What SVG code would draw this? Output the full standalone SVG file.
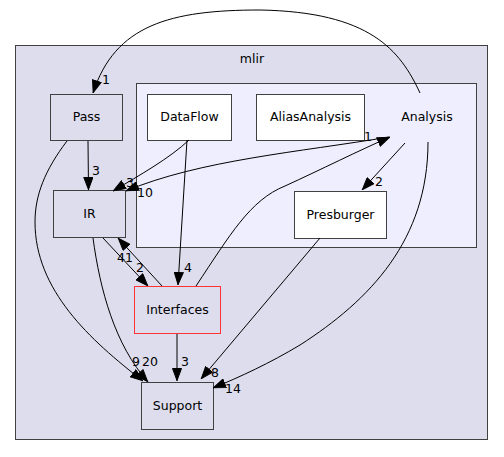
<svg xmlns="http://www.w3.org/2000/svg" width="504" height="457" viewBox="0 0 504 457">
<style>
text{font-family:"DejaVu Sans",sans-serif;font-size:12.5px;fill:#000;text-anchor:middle}
.n{stroke:#404040;stroke-width:1}
.e{fill:none;stroke:#000;stroke-width:1}
</style>
<defs>
<marker id="a" viewBox="0 0 13 10" refX="13" refY="5" markerWidth="13" markerHeight="10" markerUnits="userSpaceOnUse" orient="auto">
<path d="M0.5,0.5 L12.5,5 L0.5,9.5 z" fill="#000" stroke="#000"/>
</marker>
</defs>
<rect width="504" height="457" fill="#fff"/>
<g id="clust_mlir">
<rect x="15.5" y="45.5" width="472" height="394" fill="#ddddee" stroke="#404040"/>
<text x="252" y="63">mlir</text>
</g>
<g id="clust_Analysis">
<rect x="136.5" y="83.5" width="340" height="164" fill="#eeeeff" stroke="#404040"/>
<text x="427" y="121">Analysis</text>
</g>
<g id="Pass"><rect class="n" x="50.5" y="94.5" width="72" height="46" fill="#ddddee"/><text x="86.5" y="121">Pass</text></g>
<g id="IR"><rect class="n" x="53.5" y="190.5" width="72" height="47" fill="#ddddee"/><text x="89.5" y="218">IR</text></g>
<g id="DataFlow"><rect class="n" x="147.5" y="94.5" width="84" height="46" fill="#fff"/><text x="189.5" y="121">DataFlow</text></g>
<g id="AliasAnalysis"><rect class="n" x="256.5" y="94.5" width="108" height="46" fill="#fff"/><text x="310.5" y="121">AliasAnalysis</text></g>
<g id="Presburger"><rect class="n" x="294.5" y="191.5" width="92" height="47" fill="#fff"/><text x="340.5" y="219">Presburger</text></g>
<g id="Interfaces"><rect x="134.5" y="286.5" width="86" height="47" fill="#ddddee" stroke="#ff3333"/><text x="177.5" y="314">Interfaces</text></g>
<g id="Support"><rect class="n" x="141.5" y="382.5" width="72" height="47" fill="#ddddee"/><text x="177.5" y="410">Support</text></g>
<g id="edges">
<path class="e" marker-end="url(#a)" d="M420,93 C400,50 370,12 260,10 C170,10 115,25 93,93"/>
<text x="106" y="84">1</text>
<path class="e" marker-end="url(#a)" d="M88,141 L88.5,190"/>
<text x="96" y="175">3</text>
<path class="e" marker-end="url(#a)" d="M189,140 C170,158 140,175 113,191"/>
<text x="130" y="187">3</text>
<path class="e" marker-end="url(#a)" d="M389,137 C300,152 200,160 126,191"/>
<text x="145" y="197">10</text>
<path class="e" marker-end="url(#a)" d="M196,286 C230,235 250,200 285,186 C320,170 360,150 390,137"/>
<text x="368" y="141">1</text>
<path class="e" marker-end="url(#a)" d="M187,140 L178,285"/>
<text x="188" y="272">4</text>
<path class="e" marker-end="url(#a)" d="M103,238 L148,286"/>
<text x="140" y="272">2</text>
<path class="e" marker-end="url(#a)" d="M162,286 L118,238"/>
<text x="125" y="262">41</text>
<path class="e" marker-end="url(#a)" d="M93,238 C100,290 115,345 148,382"/>
<text x="150" y="366">20</text>
<path class="e" marker-end="url(#a)" d="M67,141 C45,170 35,195 35,222 C35,290 90,340 143,381"/>
<text x="136" y="366">9</text>
<path class="e" marker-end="url(#a)" d="M177,334 L177,381"/>
<text x="185" y="366">3</text>
<path class="e" marker-end="url(#a)" d="M320,238 L201,379"/>
<text x="215" y="377">8</text>
<path class="e" marker-end="url(#a)" d="M428,142 C428,240 370,300 300,345 C270,363 240,377 213,388"/>
<text x="233" y="393">14</text>
<path class="e" marker-end="url(#a)" d="M405,143 L362,190"/>
<text x="379" y="186">2</text>
</g>
</svg>
